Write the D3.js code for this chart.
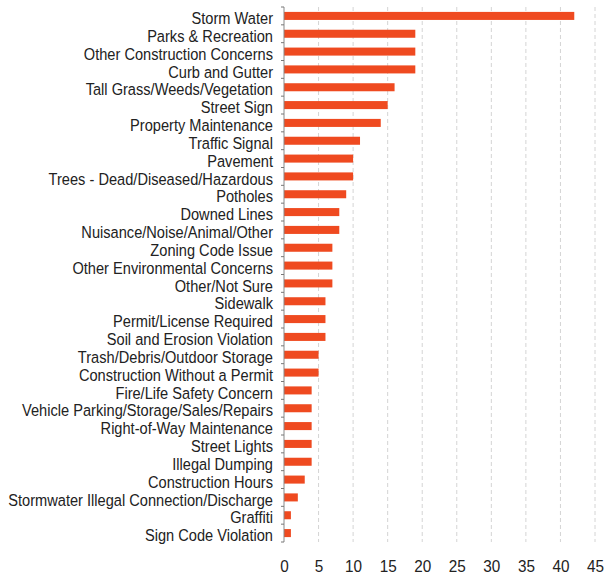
<!DOCTYPE html>
<html><head><meta charset="utf-8">
<script src="https://cdn.jsdelivr.net/npm/d3@7"></script>
<style>body{margin:0;background:#fff}svg{display:block}</style>
</head><body>
<svg id="c" width="608" height="579"></svg>
<script>
const categories = ["Storm Water","Parks & Recreation","Other Construction Concerns","Curb and Gutter","Tall Grass/Weeds/Vegetation","Street Sign","Property Maintenance","Traffic Signal","Pavement","Trees - Dead/Diseased/Hazardous","Potholes","Downed Lines","Nuisance/Noise/Animal/Other","Zoning Code Issue","Other Environmental Concerns","Other/Not Sure","Sidewalk","Permit/License Required","Soil and Erosion Violation","Trash/Debris/Outdoor Storage","Construction Without a Permit","Fire/Life Safety Concern","Vehicle Parking/Storage/Sales/Repairs","Right-of-Way Maintenance","Street Lights","Illegal Dumping","Construction Hours","Stormwater Illegal Connection/Discharge","Graffiti","Sign Code Violation"];
const values = [42,19,19,19,16,15,14,11,10,10,9,8,8,7,7,7,6,6,6,5,5,4,4,4,4,4,3,2,1,1];
const xTicks = [0,5,10,15,20,25,30,35,40,45];

const svg = d3.select("#c");
const mL = 284, mR = 595, mT = 7, mB = 542;
const x = d3.scaleLinear().domain([0,45]).range([mL,mR]);
const y = d3.scaleBand().domain(categories).range([mT,mB]).paddingInner(0.55).paddingOuter(0.275);
const font = "'Liberation Sans',Arial,sans-serif";

// gridlines
svg.append("g").selectAll("line").data(xTicks.filter(d=>d>0)).join("line")
  .attr("x1",d=>x(d)).attr("x2",d=>x(d)).attr("y1",mT).attr("y2",mB)
  .attr("stroke","#d4d4d4").attr("stroke-width",1).attr("stroke-dasharray","4,3");

// bars
svg.append("g").selectAll("rect").data(categories).join("rect")
  .attr("x",x(0)).attr("y",d=>y(d)).attr("height",y.bandwidth())
  .attr("width",(d,i)=>x(values[i])-x(0)).attr("fill","#EF4A20");

// y axis
const yb = d3.scaleLinear().domain([0,categories.length]).range([mT,mB]);
const ya = svg.append("g");
ya.append("line").attr("x1",mL).attr("x2",mL).attr("y1",mT).attr("y2",mB).attr("stroke","#888");
ya.selectAll("line.t").data(d3.range(categories.length+1)).join("line").attr("class","t")
  .attr("x1",mL-3).attr("x2",mL).attr("y1",d=>yb(d)).attr("y2",d=>yb(d)).attr("stroke","#777");
ya.selectAll("text").data(categories).join("text")
  .attr("transform",d=>`translate(${mL-11},${y(d)+y.bandwidth()/2+2}) scale(0.86,1)`)
  .attr("dy","0.36em")
  .attr("text-anchor","end").attr("font-family",font).attr("font-size",17).attr("fill","#222").text(d=>d);

// x axis labels
const xa = d3.axisBottom(x).tickValues(xTicks).tickSize(0).tickPadding(0);
const gx = svg.append("g").attr("transform",`translate(0,${mB+18})`).call(xa);
gx.select(".domain").remove();
gx.selectAll(".tick text").attr("font-family",font).attr("font-size",17).attr("fill","#222")
  .attr("transform","scale(0.9,1)");
</script>
</body></html>
